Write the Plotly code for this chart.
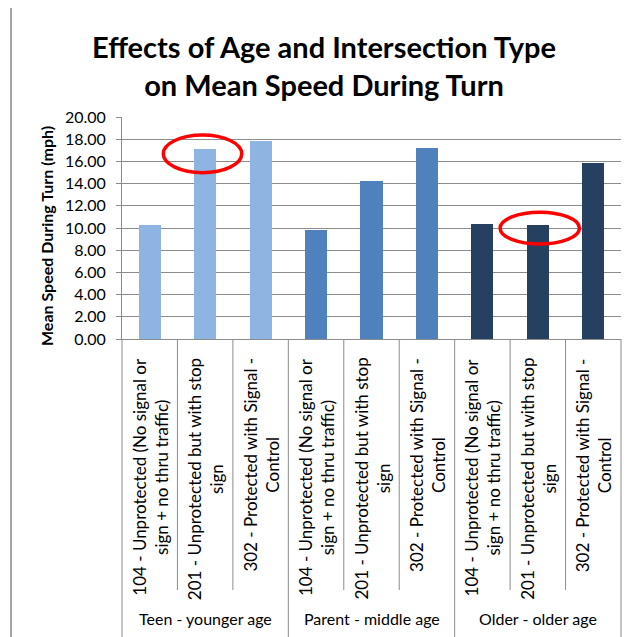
import plotly.graph_objects as go

# ── Data ──────────────────────────────────────────────
age_groups = ["Teen - younger age", "Parent - middle age", "Older - older age"]
intersection_types = [
    "104 - Unprotected (No signal or<br>sign + no thru traffic)",
    "201 - Unprotected but with stop<br>sign",
    "302 - Protected with Signal -<br>Control",
]
teen_speed = [10.25, 17.10, 17.85]
parent_speed = [9.80, 14.25, 17.20]
older_speed = [10.35, 10.25, 15.85]
group_colors = ["#8DB4E2", "#4F81BD", "#254061"]

# red rings drawn on the original slide: (bar index, x0, x1, y0, y1)
highlights = [(1, 0.245, 1.66, 14.98, 18.38), (7, 6.32, 7.75, 8.56, 11.41)]

FONT = "Lato"
GRID = "#8C8C8C"
OFF = 8  # page body margin, the figure is drawn 8px in from the corner

n_types = len(intersection_types)
n_bars = n_types * len(age_groups)

fig = go.Figure()
for g, (group, speeds) in enumerate(zip(age_groups, [teen_speed, parent_speed, older_speed])):
    fig.add_trace(go.Bar(
        x=[g * n_types + i for i in range(n_types)],
        y=speeds,
        width=0.4,
        marker=dict(color=group_colors[g], line=dict(width=0)),
        name=group,
        showlegend=False,
    ))

# plot area spans screen y 117..339 and x 122..621 -> paper coords
def py(pixel):
    return (339 - pixel) / 222

def px_(pixel):
    return (pixel - 122) / 499

shapes = []
# category table under the axis
for i in range(n_bars + 1):
    bottom = py(645) if i % n_types == 0 else py(590)
    shapes.append(dict(type="line", xref="paper", yref="paper",
                       x0=i / n_bars, x1=i / n_bars, y0=0, y1=bottom,
                       line=dict(color=GRID, width=1)))

# outer frame (top and left edge of the slide box)
shapes.append(dict(type="line", xref="paper", yref="paper",
                   x0=px_(9), x1=1.05, y0=py(5), y1=py(5),
                   line=dict(color="#A6A6A6", width=2)))
shapes.append(dict(type="line", xref="paper", yref="paper",
                   x0=px_(11), x1=px_(11), y0=py(5), y1=py(645),
                   line=dict(color="#A6A6A6", width=2)))

# red highlight ellipses
for idx, x0, x1, y0, y1 in highlights:
    shapes.append(dict(type="circle", xref="x", yref="y",
                       x0=x0, x1=x1, y0=y0, y1=y1,
                       line=dict(color="#FF0000", width=3.5)))

annotations = []
for i in range(n_bars):
    annotations.append(dict(
        x=(i + 0.5) / n_bars, y=py(356), xref="paper", yref="paper",
        text=intersection_types[i % n_types], textangle=-90,
        showarrow=False, xanchor="center", yanchor="top", align="center",
        font=dict(family=FONT, size=17, color="#000000"),
    ))
for g, group in enumerate(age_groups):
    annotations.append(dict(
        x=(g + 0.5) / len(age_groups), y=py(618), xref="paper", yref="paper",
        text=group, showarrow=False, xanchor="center", yanchor="middle",
        font=dict(family=FONT, size=16, color="#000000"),
    ))
annotations.append(dict(
    x=px_(46), y=py(236), xref="paper", yref="paper",
    text="<b>Mean Speed During Turn (mph)</b>", textangle=-90,
    showarrow=False, xanchor="center", yanchor="middle",
    font=dict(family=FONT, size=16, color="#000000"),
))

fig.update_layout(
    width=630 - OFF, height=637 - OFF,
    margin=dict(l=122 - OFF, r=630 - 621, t=117 - OFF, b=637 - 339),
    paper_bgcolor="white", plot_bgcolor="white",
    title=dict(text="<b>Effects of Age and Intersection Type<br>on Mean Speed During Turn</b>",
               x=(324 - OFF) / (630 - OFF), xanchor="center",
               y=1 - (58 - OFF) / (637 - OFF), yanchor="middle",
               font=dict(family=FONT, size=29, color="#000000")),
    xaxis=dict(range=[-0.5, n_bars - 0.5], showticklabels=False, showgrid=False,
               zeroline=False, showline=True, linecolor=GRID, linewidth=1, ticks=""),
    yaxis=dict(range=[0, 20], dtick=2, tickformat=".2f", showgrid=True, gridcolor=GRID,
               gridwidth=1, zeroline=False, showline=True, linecolor=GRID, linewidth=1,
               ticks="outside", ticklen=5, tickcolor=GRID, ticklabelstandoff=7,
               tickfont=dict(family=FONT, size=16, color="#000000")),
    shapes=shapes,
    annotations=annotations,
    bargap=0,
)

fig.write_html("out.html")
